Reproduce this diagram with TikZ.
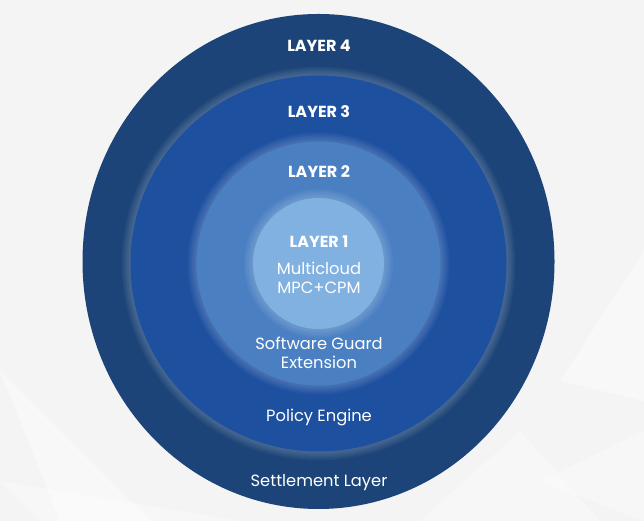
\documentclass[tikz,border=0pt]{standalone}
\usepackage{fontspec}
\setmainfont{Poppins}
\usetikzlibrary{positioning}

\definecolor{bggray}{HTML}{F4F4F4}
\definecolor{layerfour}{HTML}{1C4478}
\definecolor{layerthree}{HTML}{1E50A0}
\definecolor{layertwo}{HTML}{4A80C2}
\definecolor{layerone}{HTML}{80B1E0}

\tikzset{
  title/.style={text=white,font=\fontsize{16}{18}\selectfont\bfseries,inner sep=0pt},
  label/.style={text=white,font=\fontsize{16.3}{19}\selectfont,align=center,inner sep=0pt},
  halo/.style={white,opacity=0.035}
}

\begin{document}
\begin{tikzpicture}[x=1pt,y=1pt]
      \useasboundingbox (0,0) rectangle (644,521);
      \fill[bggray] (0,0) rectangle (644,521);
      \fill[white,opacity=0.45] (0,150) -- (60,0) -- (150,0) -- cycle;
      \fill[white,opacity=0.35] (0,40) -- (240,0) -- (40,0) -- cycle;
      \fill[white,opacity=0.4] (644,270) -- (560,140) -- (644,120) -- cycle;
      \fill[white,opacity=0.35] (540,40) -- (644,0) -- (644,90) -- cycle;
      \fill[white,opacity=0.3] (420,0) -- (520,90) -- (600,0) -- cycle;

      \coordinate (mid) at (318.5,257.5);
      \fill[layerfour] (318.5,259.5) ellipse [x radius=236, y radius=247.5];
      \foreach \r/\c in {188/layerthree,122/layertwo,65.5/layerone} {
        \foreach \d in {1.5,3,...,9} {
          \fill[halo] (mid) circle (\r+\d);
        }
        \fill[\c] (mid) circle (\r);
      }

      \node[title] (l4) at (319,475) {LAYER 4};
      \node[title] (l3) at (319,409) {LAYER 3};
      \node[title] (l2) at (319,349) {LAYER 2};
      \node[title] (l1) at (319,279) {LAYER 1};
      \node[label] (cloud) at (319,243) {Multicloud\\MPC+CPM};
      \node[label] (guard) at (319,168) {Software Guard\\Extension};
      \node[label] (policy) at (319,103) {Policy Engine};
      \node[label] (settle) at (319,38.5) {Settlement Layer};
\end{tikzpicture}
\end{document}
